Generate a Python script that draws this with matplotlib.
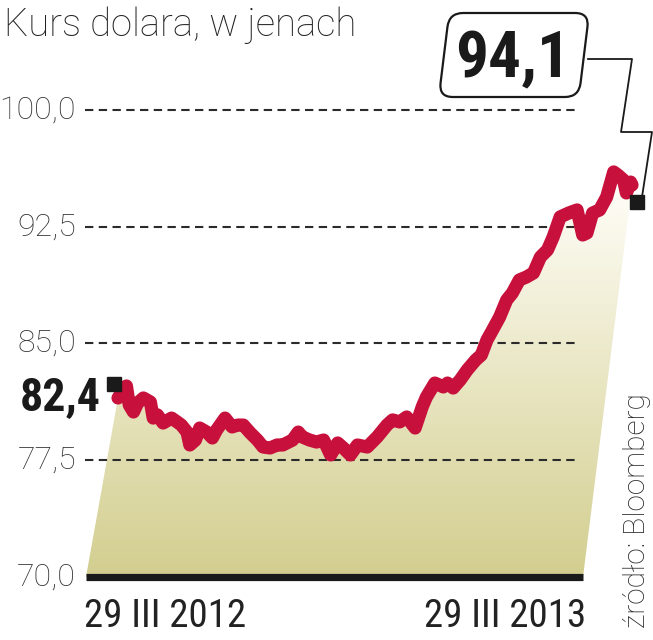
import numpy as np
import matplotlib
matplotlib.use("Agg")
import matplotlib.pyplot as plt
import matplotlib.font_manager as fm
from matplotlib.patches import Polygon, FancyBboxPatch
from matplotlib.transforms import Affine2D
from matplotlib.colors import LinearSegmentedColormap

# ---------------- data ----------------
title = "Kurs dolara, w jenach"
source = "źródło: Bloomberg"
start_label = "29 III 2012"
end_label = "29 III 2013"
yticks = [70.0, 77.5, 85.0, 92.5, 100.0]
ytick_labels = ["70,0", "77,5", "85,0", "92,5", "100,0"]
first_value = 82.4
last_value = 94.1
first_text = "82,4"
last_text = "94,1"

# days since 29 III 2012
days = [0, 6, 8, 11, 14, 18, 23, 25, 28, 32, 38, 42, 45, 49, 51, 55, 58, 63,
        67, 70, 76, 81, 85, 89, 94, 99, 103, 108, 113, 117, 124, 128, 131,
        136, 141, 146, 151, 156, 160, 165, 170, 177, 184, 191, 195, 200, 205,
        211, 216, 219, 225, 231, 234, 238, 243, 248, 254, 258, 262, 266, 271,
        276, 280, 285, 290, 295, 300, 305, 309, 314, 320, 326, 330, 333, 337,
        342, 347, 352, 355, 359, 361, 364, 365]
usd_jpy = [81.50, 82.27, 81.05, 80.60, 81.18, 81.50, 81.24, 80.21, 80.41,
           79.89, 80.21, 79.96, 79.76, 79.31, 78.48, 78.80, 79.57, 79.31,
           78.93, 79.44, 80.21, 79.64, 79.76, 79.76, 79.25, 78.80, 78.35,
           78.29, 78.48, 78.48, 78.80, 79.31, 78.99, 78.80, 78.67, 78.80,
           77.84, 78.61, 78.29, 77.84, 78.48, 78.35, 78.99, 79.76, 80.09,
           79.96, 80.28, 79.57, 80.92, 81.56, 82.46, 82.21, 82.46, 82.14,
           82.66, 83.30, 83.94, 84.26, 85.22, 85.87, 86.70, 87.79, 88.24,
           89.08, 89.27, 89.53, 90.56, 91.01, 91.84, 93.13, 93.38, 93.58,
           91.97, 92.10, 93.38, 93.58, 94.41, 96.02, 95.82, 95.50, 94.67,
           95.37, 95.18]

# ---------------- layout helpers ----------------
W, H = 653, 640
PX_PER_DAY = 514 / 365.0
X0 = 118
Y70, PX_PER_UNIT = 577, (577 - 110) / 30.0


def dx(px):
    return (px - X0) / PX_PER_DAY


def vy(py):
    return 70 + (Y70 - py) / PX_PER_UNIT


names = {f.name for f in fm.fontManager.ttflist}


def pick(cands):
    for c in cands:
        if c in names:
            return c
    return "DejaVu Sans"


LIGHT = pick(["Roboto", "Lato", "Open Sans"])
COND = pick(["Roboto Condensed", "Liberation Sans Narrow", "DejaVu Sans Condensed", "Roboto"])

RED = "#c8103c"
DARK = "#1a1a1a"

fig = plt.figure(figsize=(W / 100, H / 100), dpi=100)
ax = fig.add_axes([0, 0, 1, 1])
ax.axis("off")

# gradient fill under the line (skewed base)
poly_x = [dx(86)] + days + [dx(583)]
poly_y = [70] + usd_jpy + [70]
poly = Polygon(np.column_stack([poly_x, poly_y]), closed=True,
               facecolor="none", edgecolor="none")
ax.add_patch(poly)
cmap = LinearSegmentedColormap.from_list("g", ["#d3ce8f", "#fefdf6"])
grad = np.linspace(0, 1, 256).reshape(-1, 1)
im = ax.imshow(grad, cmap=cmap, origin="lower", aspect="auto",
               extent=[dx(80), dx(645), 70, vy(190)], zorder=1)
im.set_clip_path(poly)

# grid lines
ax.hlines(yticks[1:], dx(85), dx(580), colors="#2b2b2b", linewidth=1.5,
          linestyles=(0, (4, 2.6)), zorder=2)
ax.hlines([70], dx(86), dx(583), colors=DARK, linewidth=5.2, zorder=4)

# price line
ax.plot(days, usd_jpy, color=RED, linewidth=9.5, solid_joinstyle="round",
        solid_capstyle="round", zorder=3)

# end markers
ax.plot([dx(114)], [first_value], marker="s", ms=10, color=DARK, zorder=5)
ax.plot([dx(637)], [last_value], marker="s", ms=10.5, color=DARK, zorder=5)

# y labels
for v, s in zip(yticks, ytick_labels):
    ax.text(dx(76), v, s, ha="right", va="center", fontsize=23,
            family=LIGHT, fontweight="light", color="#333333")

# x labels
ax.text(dx(84), vy(627), start_label, ha="left", va="baseline", fontsize=28,
        family=COND, color="#222222")
ax.text(dx(586), vy(627), end_label, ha="right", va="baseline", fontsize=28,
        family=COND, color="#222222")

# title
ax.text(dx(4), vy(36), title, ha="left", va="baseline", fontsize=27.5,
        family=LIGHT, fontweight="light", color="#222222")

# source
ax.text(dx(637), vy(511), source, ha="center", va="center", rotation=90,
        fontsize=21.5, family=LIGHT, fontweight="light", color="#222222")

# first value label
ax.text(dx(101), vy(410), first_text, ha="right", va="baseline", fontsize=33,
        family=COND, fontweight="bold", color=DARK)

# last value label in skewed rounded box
cx, cy = 514, H - 55
tr = (Affine2D().translate(-cx, -cy).skew_deg(7, 0).translate(cx, cy)
      .scale(1 / W, 1 / H) + fig.transFigure)
box = FancyBboxPatch((444, H - 97), 140, 84,
                     boxstyle="round,pad=0,rounding_size=14",
                     facecolor="white", edgecolor=DARK, linewidth=1.6,
                     transform=tr, zorder=6)
ax.add_artist(box)
ax.text(dx(513), vy(77), last_text, ha="center", va="baseline", fontsize=47,
        family=COND, fontweight="bold", color=DARK, zorder=7)

# connector
cpx = [588, 632, 621, 652, 642]
cpy = [59, 59, 132, 132, 197]
ax.plot([dx(p) for p in cpx], [vy(p) for p in cpy], color=DARK,
        linewidth=1.3, zorder=5, clip_on=False)

ax.set_xlim(dx(0), dx(W))
ax.set_ylim(vy(H), vy(0))

fig.savefig("out.png", dpi=100, facecolor="white")
